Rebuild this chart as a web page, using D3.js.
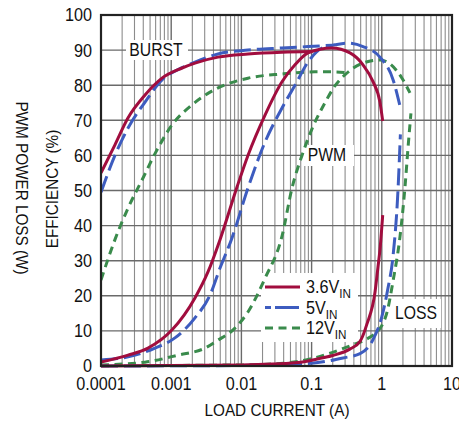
<!DOCTYPE html>
<html><head><meta charset="utf-8">
<script src="https://cdn.jsdelivr.net/npm/d3@7"></script>
<style>
html,body{margin:0;padding:0;background:#fff;}
text{font-family:"Liberation Sans",Arial,"Helvetica",sans-serif;fill:#111;}
</style></head>
<body><svg id="c" width="459" height="423"></svg>
<script>
// ---- data ----
const xTickValues = [0.0001, 0.001, 0.01, 0.1, 1, 10];
const xTickLabels = ["0.0001", "0.001", "0.01", "0.1", "1", "10"];
const yTickValues = [0, 10, 20, 30, 40, 50, 60, 70, 80, 90, 100];
const seriesNames = ["3.6V", "5V", "12V"];

const burst36 = [[0.0001,55],[0.000158,63],[0.000243,70.7],[0.000424,77.2],[0.000739,82],[0.00143,84.9],[0.00218,86.3],[0.00464,88],[0.0124,88.9],[0.0379,89.4],[0.1,89.6]];
const pwm36 = [[0.0001,1.1],[0.000243,3.1],[0.000467,5.1],[0.00103,10.3],[0.00218,19.4],[0.00334,26.8],[0.00496,36],[0.00866,51],[0.0124,60],[0.0217,71.5],[0.0379,81],[0.058,85.8],[0.089,89.2],[0.195,90.6],[0.352,89.2],[0.54,85.8],[0.75,81],[0.94,75.2],[1.03,69.8]];
const loss36 = [[0.0001,0],[0.01,0.3],[0.064,1.0],[0.12,2.0],[0.2,3.0],[0.35,4.8],[0.49,7],[0.615,12],[0.8,21],[0.88,28],[0.94,33],[1.03,43]];

const burst5 = [[0.0001,49.5],[0.000158,60],[0.000243,67.8],[0.000424,75.2],[0.000739,81.5],[0.00143,85],[0.00218,86.6],[0.00464,88.9],[0.0124,90],[0.0379,90.6],[0.089,91],[0.2,91.4]];
const pwm5 = [[0.0001,1.7],[0.000243,2.6],[0.000588,5.1],[0.00113,8],[0.00218,13.7],[0.00357,20.2],[0.00496,27.9],[0.00735,36.5],[0.0124,50.7],[0.0217,63.8],[0.0379,73.5],[0.058,80],[0.089,86.6],[0.141,90.6],[0.215,91.5],[0.319,92],[0.54,91],[0.94,88],[1.45,81.5],[1.8,74.4]];
const loss5 = [[0.0001,0],[0.01,0.15],[0.1,0.8],[0.28,2.3],[0.49,3.5],[0.75,7.5],[1.0,14],[1.22,22],[1.44,31],[1.7,50],[1.84,66]];

const burst12 = [[0.0001,24.5],[0.000158,36],[0.000243,45],[0.000384,53],[0.000588,60.5],[0.00103,68.7],[0.00198,74.4],[0.0042,78.8],[0.0124,82],[0.0379,83.2],[0.112,83.8],[0.215,83.8],[0.3,83.6]];
const pwm12 = [[0.0001,0.3],[0.000424,1.1],[0.00125,3.1],[0.00303,5.1],[0.0045,7.2],[0.0081,10.8],[0.0124,15.4],[0.0217,25],[0.0379,37],[0.0526,50.7],[0.073,60],[0.101,67.5],[0.155,75],[0.215,79.8],[0.3,83],[0.54,86.3],[0.94,87.2],[1.94,82],[2.52,77.8]];
const loss12 = [[0.0001,0.1],[0.01,0.3],[0.04,0.8],[0.11,2.3],[0.2,3.9],[0.36,5.8],[0.6,7.6],[0.85,9.7],[1.0,11.5],[1.19,15.4],[1.44,24],[1.82,37],[2.14,51],[2.36,62],[2.6,72]];

// ---- layout ----
const L = 101, R = 452, T = 15, B = 366;
const SQ = 0.9; // horizontal squeeze to imitate a condensed face
const colors = {"3.6V":"#a10d3e","5V":"#3d5cbf","12V":"#3a8b4c"};
const dashes = {"3.6V":null,"5V":"17,6","12V":"8,5.5"};

const svg = d3.select("#c");
const x = d3.scaleLog().domain([0.0001, 10]).range([L, R]);
const y = d3.scaleLinear().domain([0, 100]).range([B, T]);

// grid
const minor = [];
for (let d = -4; d < 1; d++) for (let m = 2; m <= 9; m++) minor.push(m * Math.pow(10, d));
const g = svg.append("g");
g.selectAll(".vm").data(minor).join("line")
  .attr("x1", d => x(d)).attr("x2", d => x(d)).attr("y1", T).attr("y2", B)
  .attr("stroke", "#8c8c8c").attr("stroke-width", 1.1);
g.selectAll(".vM").data(xTickValues).join("line")
  .attr("x1", d => x(d)).attr("x2", d => x(d)).attr("y1", T).attr("y2", B)
  .attr("stroke", "#6a6a6a").attr("stroke-width", 1.4);
g.selectAll(".h").data(yTickValues).join("line")
  .attr("x1", L).attr("x2", R).attr("y1", d => y(d)).attr("y2", d => y(d))
  .attr("stroke", "#6a6a6a").attr("stroke-width", 1.4);

// white label boxes
const boxes = [
  {x:126, y:40, w:62, h:20},
  {x:302, y:145, w:52, h:21},
  {x:391, y:299, w:50, h:29},
  {x:261, y:273, w:97, h:69}
];
svg.selectAll(".bx").data(boxes).join("rect")
  .attr("x", d => d.x).attr("y", d => d.y).attr("width", d => d.w).attr("height", d => d.h)
  .attr("fill", "#fff");

// curves
svg.append("clipPath").attr("id", "clip").append("rect")
  .attr("x", L).attr("y", T - 2).attr("width", R - L).attr("height", B - T + 4);
const line = d3.line().x(d => x(d[0])).y(d => y(d[1])).curve(d3.curveMonotoneX);
const curves = [
  {n:"12V", d:burst12},{n:"12V", d:pwm12},{n:"12V", d:loss12},
  {n:"5V", d:burst5},{n:"5V", d:pwm5},{n:"5V", d:loss5},
  {n:"3.6V", d:burst36},{n:"3.6V", d:pwm36},{n:"3.6V", d:loss36}
];
const cg = svg.append("g").attr("clip-path", "url(#clip)");
cg.selectAll("path").data(curves).join("path")
  .attr("d", d => line(d.d))
  .attr("fill", "none")
  .attr("stroke", d => colors[d.n])
  .attr("stroke-width", 3)
  .attr("stroke-dasharray", d => dashes[d.n]);

// frame
svg.append("rect").attr("x", L).attr("y", T).attr("width", R - L).attr("height", B - T)
  .attr("fill", "none").attr("stroke", "#222").attr("stroke-width", 2.2);

// text helper: condensed text anchored at (px,py)
function label(parent, px, py, txt, size, anchor, rot, dy) {
  const gg = parent.append("g")
    .attr("transform", `translate(${px},${py}) rotate(${rot || 0}) scale(${SQ},1)`);
  return gg.append("text").attr("x", 0).attr("y", 0)
    .attr("dy", dy === undefined ? "0.36em" : dy)
    .attr("text-anchor", anchor).attr("font-size", size).text(txt);
}

// tick labels
yTickValues.forEach(v => label(svg, 92, y(v), String(v), 18, "end"));
xTickValues.forEach((v, i) => label(svg, x(v), 390, xTickLabels[i], 18, "middle", 0, 0));

// axis titles
label(svg, 277, 416, "LOAD CURRENT (A)", 17, "middle", 0, 0);
label(svg, 58, 189, "EFFICIENCY (%)", 17, "middle", -90, 0);
label(svg, 16, 188, "PWM POWER LOSS (W)", 17, "middle", 90, 0);

// annotations
label(svg, 156, 50, "BURST", 17.5, "middle");
label(svg, 327, 155, "PWM", 17.5, "middle");
label(svg, 416, 313, "LOSS", 17.5, "middle");

// legend
seriesNames.forEach((n, i) => {
  const yy = 287 + i * 20.5;
  svg.append("line").attr("x1", 265).attr("x2", 300).attr("y1", yy).attr("y2", yy)
    .attr("stroke", colors[n]).attr("stroke-width", 3)
    .attr("stroke-dasharray", n === "5V" ? "6,4,24" : dashes[n]);
  const t = label(svg, 306, yy, "", 18, "start");
  t.append("tspan").text(n);
  t.append("tspan").attr("font-size", 13).attr("dy", 5).text("IN");
});
</script></body></html>
